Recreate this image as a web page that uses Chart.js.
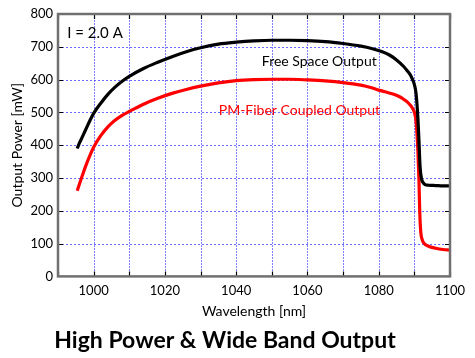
<!DOCTYPE html>
<html>
<head>
<meta charset="utf-8">
<script src="https://cdn.jsdelivr.net/npm/chart.js@4/dist/chart.umd.min.js"></script>
<style>
  html, body { margin: 0; padding: 0; background: #ffffff; }
  #wrap { width: 475px; height: 358px; }
</style>
</head>
<body>
<div id="wrap"><canvas id="c" width="475" height="358"></canvas></div>
<script>
// ---- data ----
const wavelengthsFree = [995.4, 996, 997, 998, 999, 1000, 1002, 1004, 1006, 1008, 1010, 1014, 1018, 1022, 1026, 1030, 1035, 1040, 1045, 1050, 1055, 1060, 1065, 1070, 1075, 1078, 1081, 1083, 1085, 1087, 1088, 1089, 1089.5, 1090, 1090.5, 1091, 1091.3, 1091.6, 1092, 1092.5, 1093, 1094, 1096, 1098, 1100];
const powerFree       = [390, 406, 429, 453, 476, 497, 528, 555, 577, 595, 610, 634, 653, 670, 685, 697, 708, 714, 718, 720, 720, 719, 716, 710, 702, 695, 685, 675, 660, 640, 627, 612, 600, 585, 555, 480, 410, 335, 298, 285, 280, 278, 277, 276, 276];

const wavelengthsFiber = [995.4, 996, 997, 998, 999, 1000, 1002, 1004, 1006, 1008, 1010, 1014, 1018, 1022, 1026, 1030, 1035, 1040, 1045, 1050, 1055, 1060, 1065, 1070, 1075, 1078, 1080, 1082, 1084, 1086, 1087, 1088, 1089, 1089.5, 1090, 1090.5, 1091, 1091.3, 1091.5, 1091.8, 1092.2, 1092.6, 1094, 1096, 1098, 1100];
const powerFiber       = [261, 281, 313, 343, 370, 394, 429, 456, 476, 491, 503, 525, 543, 558, 570, 580, 590, 597, 600, 601, 601, 599, 596, 591, 583, 575, 568, 562, 556, 547, 540, 532, 520, 512, 500, 470, 380, 290, 200, 135, 112, 102, 92, 86, 82, 80];

const xTickLabels = [1000, 1020, 1040, 1060, 1080, 1100];
const yTickLabels = [0, 100, 200, 300, 400, 500, 600, 700, 800];

const seriesNames = ['Free Space Output', 'PM-Fiber Coupled Output'];
const seriesColors = ['#000000', '#ff0000'];
const currentLabel = 'I = 2.0 A';
const chartTitle = 'High Power & Wide Band Output';
const xTitle = 'Wavelength [nm]';
const yTitle = 'Output Power [mW]';

const toPoints = (xs, ys) => xs.map((x, i) => ({ x: x, y: ys[i] }));

const FONT = 'Lato, "Open Sans", "DejaVu Sans", sans-serif';

// grid drawn from the library's scale ticks
const gridPlugin = {
  id: 'dotgrid',
  beforeDatasetsDraw(chart) {
    const { ctx, chartArea: a, scales } = chart;
    ctx.save();
    ctx.lineWidth = 1;
    ctx.strokeStyle = 'rgba(85,85,255,0.75)';
    ctx.setLineDash([2, 1]);
    scales.x.ticks.forEach(t => {
      const px = Math.round(scales.x.getPixelForValue(t.value)) + 0.5;
      ctx.beginPath(); ctx.moveTo(px, a.top); ctx.lineTo(px, a.bottom); ctx.stroke();
    });
    ctx.strokeStyle = 'rgba(70,70,255,0.8)';
    ctx.setLineDash([2, 2]);
    scales.y.ticks.forEach(t => {
      const py = Math.round(scales.y.getPixelForValue(t.value)) + 0.5;
      ctx.beginPath(); ctx.moveTo(a.left, py); ctx.lineTo(a.right, py); ctx.stroke();
    });
    ctx.restore();
  }
};

const framePlugin = {
  id: 'frame',
  afterDatasetsDraw(chart) {
    const { ctx, chartArea: a, scales } = chart;
    ctx.save();
    // inward ticks
    ctx.strokeStyle = '#000';
    ctx.lineWidth = 1.2;
    scales.x.ticks.forEach(t => {
      const px = Math.round(scales.x.getPixelForValue(t.value)) + 0.5;
      ctx.beginPath();
      ctx.moveTo(px, a.bottom); ctx.lineTo(px, a.bottom - 5);
      ctx.moveTo(px, a.top); ctx.lineTo(px, a.top + 5);
      ctx.stroke();
    });
    scales.y.ticks.forEach(t => {
      const py = Math.round(scales.y.getPixelForValue(t.value)) + 0.5;
      ctx.beginPath();
      ctx.moveTo(a.left - 1, py); ctx.lineTo(a.left + 5, py);
      ctx.moveTo(a.right + 1, py); ctx.lineTo(a.right - 5, py);
      ctx.stroke();
    });
    // frame
    ctx.strokeStyle = '#707070';
    ctx.lineWidth = 2.5;
    ctx.strokeRect(a.left, a.top, a.right - a.left, a.bottom - a.top);
    // text labels
    const sx = scales.x, sy = scales.y;
    ctx.textBaseline = 'middle';
    ctx.textAlign = 'left';
    ctx.fillStyle = '#000';
    ctx.font = '15px ' + FONT;
    ctx.fillText(currentLabel, sx.getPixelForValue(992.6), sy.getPixelForValue(742));
    ctx.font = '14px ' + FONT;
    ctx.fillStyle = '#000';
    ctx.fillText(seriesNames[0], sx.getPixelForValue(1047.2), sy.getPixelForValue(656));
    ctx.fillStyle = '#ff0000';
    ctx.fillText(seriesNames[1], sx.getPixelForValue(1035.1), sy.getPixelForValue(505));
    ctx.restore();
  }
};

new Chart(document.getElementById('c'), {
  type: 'line',
  data: {
    datasets: [
      { label: seriesNames[0], data: toPoints(wavelengthsFree, powerFree), borderColor: seriesColors[0], borderWidth: 3.2, pointRadius: 0, cubicInterpolationMode: 'monotone', fill: false },
      { label: seriesNames[1], data: toPoints(wavelengthsFiber, powerFiber), borderColor: seriesColors[1], borderWidth: 3.2, pointRadius: 0, cubicInterpolationMode: 'monotone', fill: false }
    ]
  },
  options: {
    responsive: false,
    animation: false,
    devicePixelRatio: 1,
    layout: { padding: { left: 0, right: 25, top: 14, bottom: 0 } },
    plugins: {
      legend: { display: false },
      tooltip: { enabled: false },
      title: {
        display: true,
        position: 'bottom',
        text: chartTitle,
        color: '#000',
        font: { family: FONT, size: 23, weight: 'bold' },
        padding: { top: 0, bottom: 4 }
      }
    },
    scales: {
      x: {
        type: 'linear',
        min: 990, max: 1100,
        afterFit(s) { s.height = 50; },
        ticks: {
          stepSize: 10,
          autoSkip: false,
          maxRotation: 0,
          padding: 7,
          color: '#000',
          font: { family: FONT, size: 13 },
          callback: v => xTickLabels.includes(v) ? String(v) : ''
        },
        grid: { display: false, drawTicks: false },
        border: { display: false },
        title: { display: true, text: xTitle, color: '#000', font: { family: FONT, size: 14 }, padding: { top: 0, bottom: 7 } }
      },
      y: {
        min: 0, max: 800,
        afterFit(s) { s.width = 58; },
        ticks: {
          stepSize: 100,
          padding: 5,
          color: '#000',
          font: { family: FONT, size: 13 },
          callback: v => yTickLabels.includes(v) ? String(v) : ''
        },
        grid: { display: false, drawTicks: false },
        border: { display: false },
        title: { display: true, text: yTitle, color: '#000', font: { family: FONT, size: 14 }, padding: { top: 9, bottom: 0 } }
      }
    }
  },
  plugins: [gridPlugin, framePlugin]
});
</script>
</body>
</html>
